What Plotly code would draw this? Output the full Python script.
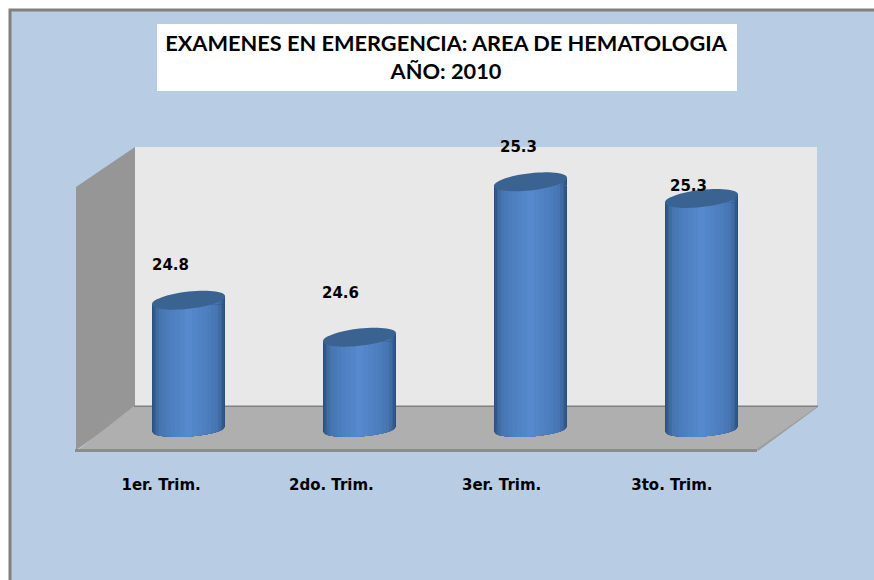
import numpy as np
import plotly.graph_objects as go

# ---- data ----
categories = ["1er. Trim.", "2do. Trim.", "3er. Trim.", "3to. Trim."]
bar_heights = [24.80, 24.60, 25.44, 25.35]   # heights as drawn
value_labels = ["24.8", "24.6", "25.3", "25.3"]
title_lines = ["EXAMENES EN EMERGENCIA: AREA DE HEMATOLOGIA", "AÑO: 2010"]

# ---- layout constants ----
W, H = 874, 580
FLOOR = 24.12            # value at the cylinder base
PX = 1 / 185.0           # data units per pixel
BAR_W = 0.427            # bar width in category units
label_dx = [-18, -19, -12, -13]
label_dy = [35, 44, 35, 12]


def fx(x):
    return x / W


def fy(y):
    return 1 - y / H


def poly(points, **kw):
    path = "M" + " L".join(f"{fx(x):.5f},{fy(y):.5f}" for x, y in points) + " Z"
    return dict(type="path", xref="paper", yref="paper", path=path, layer="below", **kw)


def mix(a, b, t):
    ca = [int(a[i:i + 2], 16) for i in (1, 3, 5)]
    cb = [int(b[i:i + 2], 16) for i in (1, 3, 5)]
    return "#" + "".join(f"{round(p + (q - p) * t):02x}" for p, q in zip(ca, cb))


# nested widths give a horizontal shading across each cylinder
EDGE, MID, CORE = "#2c4f7c", "#4675b2", "#5689cd"
fractions = [1.0, 0.97, 0.93, 0.88, 0.81, 0.72, 0.62, 0.50, 0.38, 0.24, 0.10]
shade = []
for k, fr in enumerate(fractions):
    t = k / (len(fractions) - 1)
    shade.append((fr, mix(EDGE, MID, t / 0.4) if t < 0.4 else mix(MID, CORE, (t - 0.4) / 0.6)))

TOP_TILT, TOP_DY = 4 * PX, 8.6 * PX
BOT_TILT, BOT_DY, BOT_OFF = 2.5 * PX, 7.0 * PX, 3.5 * PX

shapes = [
    dict(type="rect", xref="paper", yref="paper", x0=fx(10), x1=fx(W + 20), y0=fy(H + 20), y1=fy(10),
         fillcolor="#B8CCE4", line=dict(color="#808080", width=3), layer="below"),
    dict(type="rect", xref="paper", yref="paper", x0=fx(157), x1=fx(737), y0=fy(91), y1=fy(24),
         fillcolor="#FFFFFF", line=dict(width=0), layer="below"),
    poly([(135, 147), (817, 147), (817, 407), (135, 407)], fillcolor="#E8E8E8", line=dict(width=0)),
    poly([(76, 187), (135, 147), (135, 409), (76, 450)], fillcolor="#969696", line=dict(width=0)),
    poly([(134, 406), (818, 406), (757, 450), (78, 450)], fillcolor="#AFAFAF", line=dict(width=0)),
    poly([(757, 449), (818, 406), (818, 407), (758, 451)], fillcolor="#9C9C9C", line=dict(width=0)),
    poly([(75, 449), (757, 449), (757, 452), (75, 452)], fillcolor="#8C8C8C", line=dict(width=0)),
    poly([(134, 405.5), (818, 405.5), (818, 407), (134, 407)], fillcolor="#808080", line=dict(width=0)),
]

fig = go.Figure()

# invisible trace that carries the front-plane category axis
fig.add_trace(go.Scatter(x=categories, y=bar_heights, mode="markers", marker=dict(opacity=0),
                         xaxis="x", yaxis="y", hoverinfo="skip", showlegend=False))

positions = list(range(len(categories)))
for fr, colour in shade:
    fig.add_trace(go.Bar(
        x=positions,
        y=[v - TOP_TILT - FLOOR for v in bar_heights],
        base=FLOOR,
        width=BAR_W * fr,
        marker=dict(color=colour, line=dict(width=0)),
        xaxis="x2", yaxis="y", hoverinfo="skip", showlegend=False,
    ))
    # curved foot and slanted shoulder of each shading band
    for i, v in zip(positions, bar_heights):
        t = np.linspace(-fr, fr, 25)
        xs = i + t * BAR_W / 2
        foot = FLOOR - BOT_OFF - BOT_DY * np.sqrt(np.clip(1 - t ** 2, 0, 1)) + BOT_TILT * t
        d = f"M{xs[0]:.4f},{FLOOR:.4f} " + " ".join(f"L{a:.4f},{b:.4f}" for a, b in zip(xs, foot))
        d += f" L{xs[-1]:.4f},{FLOOR:.4f} Z"
        ends = [-fr, fr]
        d += (f" M{i + ends[0] * BAR_W / 2:.4f},{v - TOP_TILT:.4f}"
              f" L{i + ends[0] * BAR_W / 2:.4f},{v + TOP_TILT * ends[0]:.4f}"
              f" L{i + ends[1] * BAR_W / 2:.4f},{v + TOP_TILT * ends[1]:.4f}"
              f" L{i + ends[1] * BAR_W / 2:.4f},{v - TOP_TILT:.4f} Z")
        shapes.append(dict(type="path", xref="x2", yref="y", path=d, fillcolor=colour,
                           line=dict(width=0), layer="above"))

# top faces
for i, v in zip(positions, bar_heights):
    a = np.linspace(0, 2 * np.pi, 61)
    xs = i + np.cos(a) * BAR_W / 2
    ys = v + TOP_DY * np.sin(a) + TOP_TILT * np.cos(a)
    d = "M" + " L".join(f"{p:.4f},{q:.4f}" for p, q in zip(xs, ys)) + " Z"
    shapes.append(dict(type="path", xref="x2", yref="y", path=d, fillcolor="#3A6391",
                       line=dict(width=0), layer="above"))

annotations = [
    dict(x=i, y=v, xref="x2", yref="y", text=lab, showarrow=False, xshift=dx, yshift=dy,
         font=dict(family="DejaVu Sans", size=15, color="#000000", weight=700))
    for i, v, lab, dx, dy in zip(positions, bar_heights, value_labels, label_dx, label_dy)
]

fig.update_layout(
    width=W, height=H,
    margin=dict(l=0, r=0, t=0, b=0),
    paper_bgcolor="#FFFFFF",
    plot_bgcolor="rgba(0,0,0,0)",
    barmode="overlay",
    bargap=0,
    showlegend=False,
    title=dict(
        text="<br>".join(title_lines),
        x=446 / W, xref="paper", xanchor="center",
        y=fy(51), yref="paper", yanchor="middle",
        font=dict(family="Lato", size=21.75, color="#000000", weight=700),
    ),
    xaxis=dict(
        domain=[fx(76), fx(757)], anchor="free", position=fy(451),
        type="category", categoryorder="array", categoryarray=categories,
        range=[-0.5, 3.5], showgrid=False, zeroline=False, showline=False,
        ticks="outside", ticklen=20, tickcolor="rgba(0,0,0,0)",
        tickfont=dict(family="DejaVu Sans", size=15, color="#000000", weight=700),
        fixedrange=True,
    ),
    xaxis2=dict(
        domain=[fx(103), fx(787)], anchor="y",
        range=[-0.5, 3.5], visible=False, fixedrange=True,
    ),
    yaxis=dict(
        domain=[fy(470), fy(100)], range=[FLOOR - 44 * PX, FLOOR + 326 * PX],
        visible=False, fixedrange=True,
    ),
    shapes=shapes,
    annotations=annotations,
)

fig.write_html("out.html", config={"displayModeBar": False},
               post_script="document.body.style.margin='0';")
